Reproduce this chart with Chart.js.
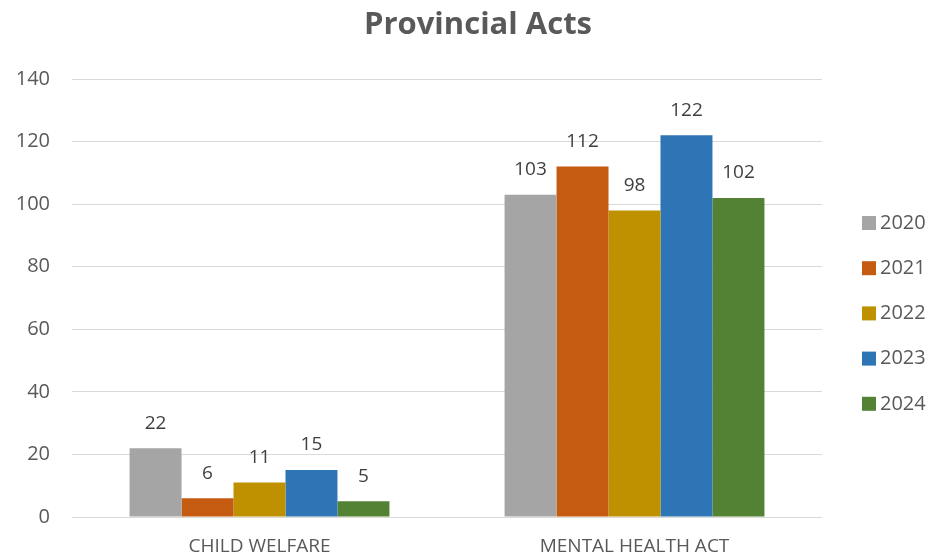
<!DOCTYPE html>
<html><head><meta charset="utf-8">
<script src="https://cdn.jsdelivr.net/npm/chart.js@4"></script>
<style>html,body{margin:0;padding:0;background:#fff}#wrap{width:934px;height:559px}</style>
</head><body><div id="wrap"><canvas id="c"></canvas></div>
<script>
const chartTitle = "Provincial Acts";
const categories = ["CHILD WELFARE", "MENTAL HEALTH ACT"];
const seriesNames = ["2020", "2021", "2022", "2023", "2024"];
const v2020 = [22, 103];
const v2021 = [6, 112];
const v2022 = [11, 98];
const v2023 = [15, 122];
const v2024 = [5, 102];
const yTicks = [0, 20, 40, 60, 80, 100, 120, 140];

const values = [v2020, v2021, v2022, v2023, v2024];
const colors = ["#A5A5A5", "#C55A11", "#BF9000", "#2E75B6", "#548235"];
const FONT = "'Open Sans', 'Liberation Sans', sans-serif";

const labelPlugin = {
  id: 'barLabels',
  afterDatasetsDraw(chart) {
    const ctx = chart.ctx;
    ctx.save();
    ctx.font = "19px " + FONT;
    ctx.fillStyle = "#404040";
    ctx.textAlign = "center";
    ctx.textBaseline = "middle";
    chart.data.datasets.forEach((ds, i) => {
      chart.getDatasetMeta(i).data.forEach((bar, j) => {
        ctx.fillText(String(ds.data[j]), bar.x, bar.y - 25);
      });
    });
    ctx.restore();
  }
};

const legendPlugin = {
  id: 'sideLegend',
  afterDraw(chart) {
    const ctx = chart.ctx;
    const ca = chart.chartArea;
    ctx.save();
    // title
    ctx.font = "bold 31px " + FONT;
    ctx.fillStyle = "#595959";
    ctx.textAlign = "center";
    ctx.textBaseline = "middle";
    ctx.fillText(chartTitle, 478, 25);
    // legend
    ctx.font = "20px " + FONT;
    ctx.textAlign = "left";
    const x0 = ca.right + 40;
    const y0 = ca.top + 144;
    chart.data.datasets.forEach((ds, i) => {
      const y = y0 + i * 45.2;
      ctx.fillStyle = ds.backgroundColor;
      ctx.fillRect(x0, y - 7, 14, 14);
      ctx.fillStyle = "#595959";
      ctx.fillText(ds.label, x0 + 18, y);
    });
    ctx.restore();
  }
};

new Chart(document.getElementById('c'), {
  type: 'bar',
  data: {
    labels: categories,
    datasets: seriesNames.map((n, i) => ({
      label: n, data: values[i], backgroundColor: colors[i], borderWidth: 0
    }))
  },
  options: {
    responsive: true, maintainAspectRatio: false, animation: false,
    layout: { padding: { left: 14, right: 112, top: 79, bottom: 2 } },
    datasets: { bar: { barPercentage: 1.0, categoryPercentage: 0.693 } },
    plugins: {
      title: { display: false },
      legend: { display: false },
      tooltip: { enabled: false }
    },
    scales: {
      x: { grid: { display: false }, border: { display: false },
        afterFit(s) { s.height = 40; },
        ticks: { color: "#595959", font: { family: FONT, size: 19 }, padding: 10, maxRotation: 0 } },
      y: { min: 0, max: 140, afterBuildTicks(ax) { ax.ticks = yTicks.map(v => ({ value: v })); },
        afterFit(s) { s.width = 58; },
        grid: { color: "#D9D9D9", lineWidth: 1, drawTicks: false }, border: { display: false },
        ticks: { color: "#595959", font: { family: FONT, size: 20 }, padding: 22 } }
    }
  },
  plugins: [labelPlugin, legendPlugin]
});
</script></body></html>
